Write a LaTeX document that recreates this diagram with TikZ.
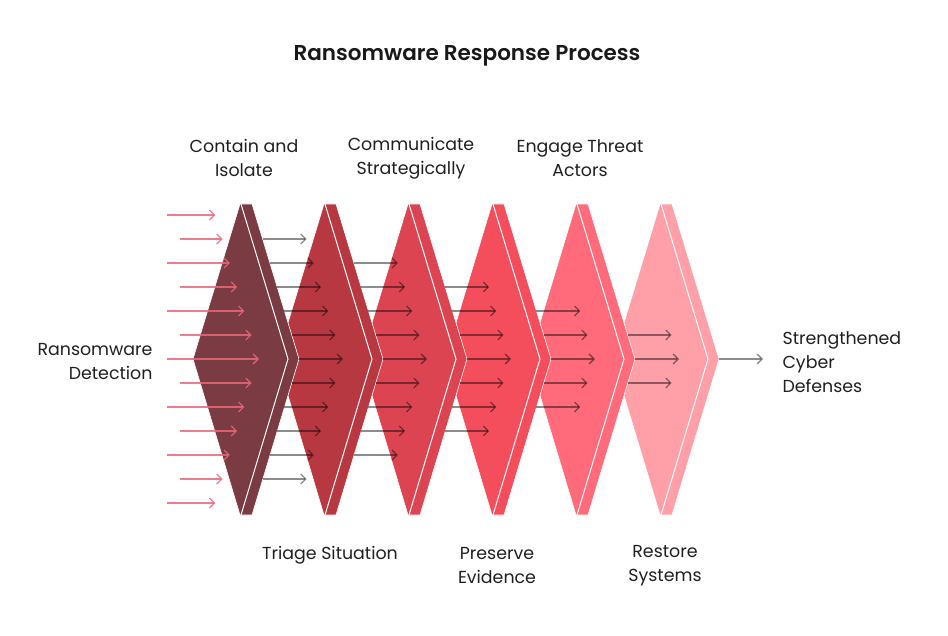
\documentclass[tikz,border=0pt]{standalone}
\usepackage{fontspec}
\setmainfont{Poppins}
\newfontfamily\titlefont{Poppins SemiBold}
\usepackage{xcolor}
\usetikzlibrary{arrows.meta}
\usetikzlibrary{positioning}

\definecolor{stageA}{HTML}{7A3B43}
\definecolor{stageB}{HTML}{B83842}
\definecolor{stageC}{HTML}{DC4452}
\definecolor{stageD}{HTML}{F44E5D}
\definecolor{stageE}{HTML}{FF6B7A}
\definecolor{stageF}{HTML}{FFA0A9}
\definecolor{inpink}{HTML}{E8677A}

\tikzset{
  lbl/.style={align=center,font=\fontsize{17.4}{24}\selectfont,text=black!88},
  flow/.style={line width=1.3pt,draw=black,draw opacity=.45,-{Straight Barb[length=5pt,width=10pt]}},
  inflow/.style={line width=1.3pt,draw=inpink,draw opacity=.85,-{Straight Barb[length=5pt,width=10pt]}}
}

\begin{document}
\begin{tikzpicture}[x=1pt,y=-1pt]
\useasboundingbox (0,0) rectangle (948,636);

% chevrons, back to front
\foreach \k/\col in {5/stageF,4/stageE,3/stageD,2/stageC,1/stageB,0/stageA}{
  \fill[\col,draw=white,line width=.6pt] (193+84*\k,359)--(240+84*\k,204)--(252+84*\k,204)--(299+84*\k,359)--(252+84*\k,515)--(240+84*\k,515)--cycle;
  \draw[white,line width=1pt] (241+84*\k,204)--(288+84*\k,359)--(241+84*\k,515);
}

% arrows into the first chevron
\foreach \j in {-6,...,6}{
  \pgfmathtruncatemacro\a{abs(\j)}
  \pgfmathsetmacro\xs{mod(\a,2)==1 ? 180 : 167}
  \pgfmathsetmacro\xe{259-7.277*\a}
  \draw[inflow] (\xs,359+24*\j) -- (\xe,359+24*\j);
}

% arrows between the chevrons
\foreach \c in {1,...,6}{
  \pgfmathtruncatemacro\n{6-\c}
  \foreach \j in {-\n,...,\n}{
    \pgfmathsetmacro\xs{299+84*(\c-1)-7.277*abs(\j)}
    \draw[flow] (\xs,359+24*\j) -- ++(44,0);
  }
}

\node[font=\titlefont\fontsize{21.5}{26}\selectfont,text=black!90] (title) at (467,56) {Ransomware Response Process};

\node[lbl] (contain) at (244,158) {Contain and\\Isolate};
\node[lbl] (communicate) at (411,158) {Communicate\\Strategically};
\node[lbl] (engage) at (580,158) {Engage Threat\\Actors};
\node[lbl] (triage) at (330,555) {Triage Situation};
\node[lbl] (preserve) at (497,566) {Preserve\\Evidence};
\node[lbl] (restore) at (665,566) {Restore\\Systems};
\node[lbl,align=right,anchor=east] (detect) at (156,362) {Ransomware\\Detection};
\node[lbl,align=left,anchor=west] (defense) at (779,362) {Strengthened\\Cyber\\Defenses};
\end{tikzpicture}
\end{document}
